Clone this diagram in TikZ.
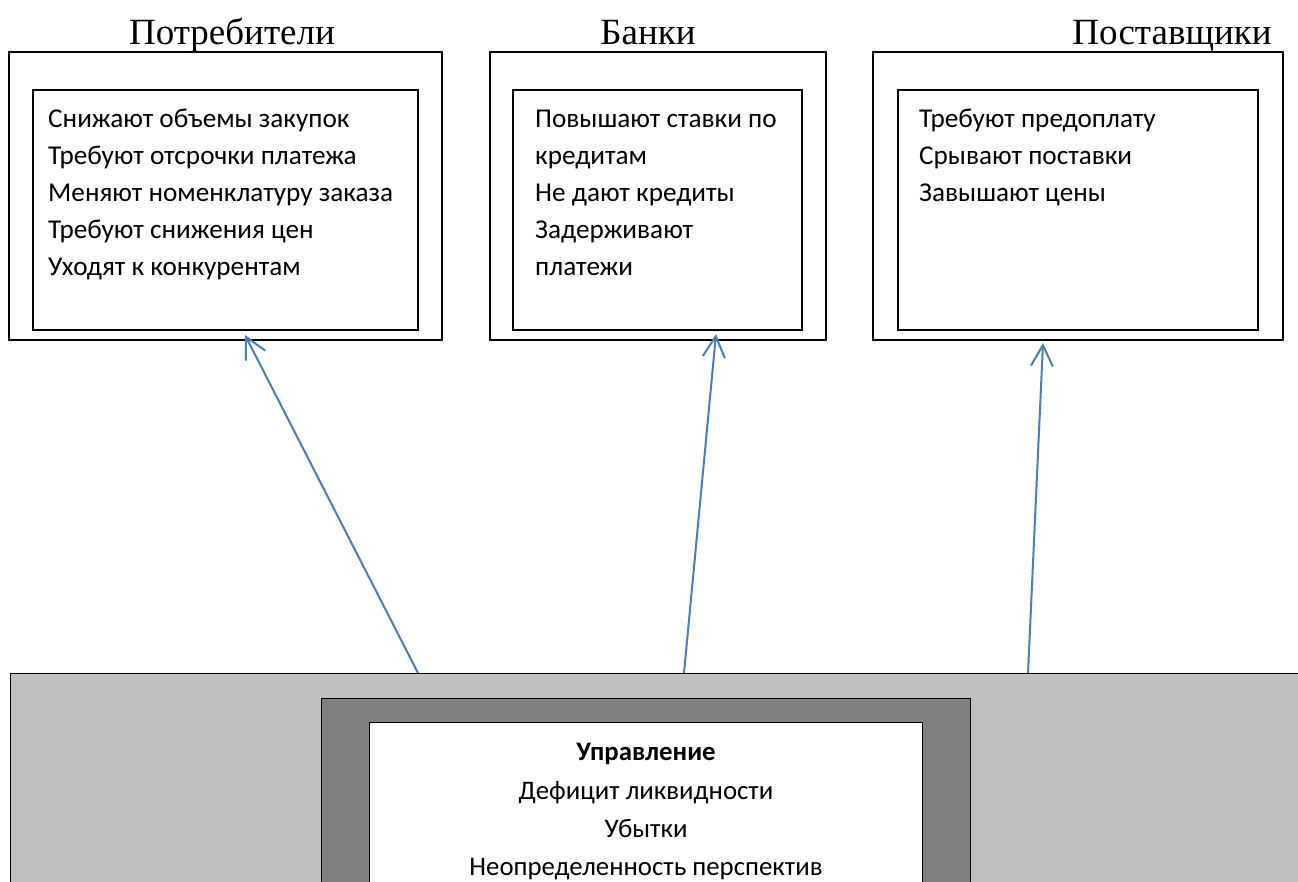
\documentclass[tikz,border=0pt]{standalone}
\usepackage{fontspec}
\setmainfont{Liberation Serif}
\newfontfamily\calib{Carlito}
\usetikzlibrary{arrows.meta}
\definecolor{arrowblue}{HTML}{4A7EBB}
\definecolor{panelgray}{HTML}{C0C0C0}
\definecolor{framegray}{HTML}{808080}
\begin{document}
\begin{tikzpicture}[x=1pt,y=-1pt,
  frame/.style={draw=black, line width=2pt, inner sep=0pt, outer sep=0pt, fill=white},
  flat/.style={draw=black, line width=1pt, inner sep=0pt, outer sep=0pt},
  title/.style={font=\fontsize{37}{44}\selectfont, anchor=base, inner sep=0pt},
  item/.style={font=\calib\fontsize{27.2}{32}\selectfont, anchor=base west, inner sep=0pt},
  citem/.style={font=\calib\fontsize{26.8}{32}\selectfont, anchor=base, inner sep=0pt},
  link/.style={draw=arrowblue, line width=2pt, -{Straight Barb[length=21pt,width=22pt,line width=2pt]}}]
\useasboundingbox (0,0) rectangle (1298,882);
\fill[white] (0,0) rectangle (1298,882);

% titles
\node[title] (t1) at (232,45) {Потребители};
\node[title] (t2) at (648,45) {Банки};
\node[title] (t3) at (1172,45) {Поставщики};

% box 1
\node[frame, minimum width=433pt, minimum height=288pt] (o1) at (225.5,196) {};
\node[frame, minimum width=385pt, minimum height=240pt] (i1) at (225.5,210) {};
\node[item] (a1) at (48,128) {Снижают объемы закупок};
\node[item] (a2) at (48,165) {Требуют отсрочки платежа};
\node[item] (a3) at (48,202) {Меняют номенклатуру заказа};
\node[item] (a4) at (48,239) {Требуют снижения цен};
\node[item] (a5) at (48,276) {Уходят к конкурентам};

% box 2
\node[frame, minimum width=336pt, minimum height=288pt] (o2) at (658,196) {};
\node[frame, minimum width=289pt, minimum height=240pt] (i2) at (657.5,210) {};
\node[item] (b1) at (535,128) {Повышают ставки по};
\node[item] (b2) at (535,165) {кредитам};
\node[item] (b3) at (535,202) {Не дают кредиты};
\node[item] (b4) at (535,239) {Задерживают};
\node[item] (b5) at (535,276) {платежи};

% box 3
\node[frame, minimum width=410pt, minimum height=288pt] (o3) at (1078,196) {};
\node[frame, minimum width=360pt, minimum height=240pt] (i3) at (1078,210) {};
\node[item] (c1) at (919,128) {Требуют предоплату};
\node[item] (c2) at (919,165) {Срывают поставки};
\node[item] (c3) at (919,202) {Завышают цены};

% bottom panels
\node[flat, fill=panelgray, minimum width=1300pt, minimum height=227pt] (base) at (660,786.5) {};
\node[flat, fill=framegray, minimum width=649pt, minimum height=202pt] (mid) at (645.5,799) {};
\node[flat, fill=white, minimum width=553pt, minimum height=178pt] (core) at (645.5,811) {};
\node[citem, font=\calib\bfseries\fontsize{26.8}{32}\selectfont] (m0) at (646,760) {Управление};
\node[citem] (m1) at (646,799) {Дефицит ликвидности};
\node[citem] (m2) at (646,837) {Убытки};
\node[citem] (m3) at (646,875) {Неопределенность перспектив};

% connectors
\coordinate (s1) at (418,673);
\coordinate (s2) at (684,673);
\coordinate (s3) at (1028,673);
\coordinate (e1) at (245,335);
\coordinate (e2) at (716,334);
\coordinate (e3) at (1043,343);
\draw[link] (s1) -- (e1);
\draw[link] (s2) -- (e2);
\draw[link] (s3) -- (e3);
\end{tikzpicture}
\end{document}
